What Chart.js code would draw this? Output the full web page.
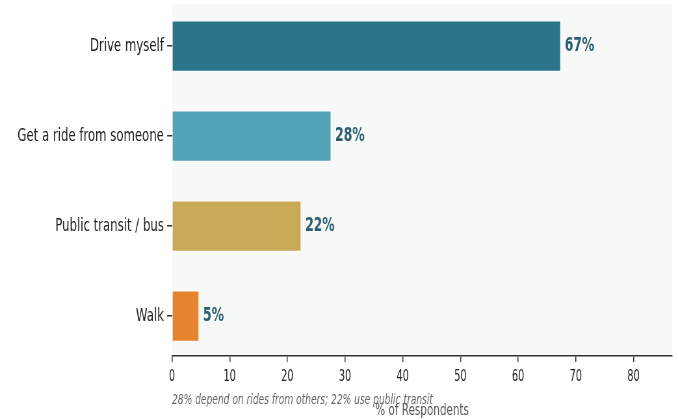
<!DOCTYPE html>
<html>
<head>
<meta charset="utf-8">
<script src="https://cdn.jsdelivr.net/npm/chart.js@4/dist/chart.umd.min.js"></script>
<style>
  html, body { margin: 0; padding: 0; background: #ffffff; overflow: hidden; }
  /* the reference text is squeezed sideways, so the canvas is drawn wide and shown narrow */
  #barChart { display: block; width: 678px !important; height: 420px !important; }
</style>
</head>
<body>
<canvas id="barChart" width="1043" height="420"></canvas>
<script>
var categories = ["Drive myself", "Get a ride from someone", "Public transit / bus", "Walk"];
var shares     = [67.4, 27.6, 22.4, 4.7];
var barColors  = ["#2a7589", "#52a2b8", "#c9aa56", "#e5832f"];
var xTicks     = [0, 10, 20, 30, 40, 50, 60, 70, 80];
var footnote   = "28% depend on rides from others; 22% use public transit";

var squeeze = 0.65;   // shown width / drawn width
var fontFamily = "'DejaVu Sans', sans-serif";

// bars sit on index positions 0..3 of a linear axis, like barh does
var points = shares.map(function (v, i) { return { x: v, y: i }; });

// plot background + value labels + footnote
var extras = {
    id: "extras",
    beforeDraw: function (chart) {
        var a = chart.chartArea, ctx = chart.ctx;
        ctx.save();
        ctx.fillStyle = "#f7f9f9";
        ctx.fillRect(a.left, a.top, a.right - a.left, a.bottom - a.top);
        ctx.restore();
    },
    afterDatasetsDraw: function (chart) {
        var ctx = chart.ctx;
        var meta = chart.getDatasetMeta(0);
        ctx.save();
        ctx.font = "bold 19px " + fontFamily;
        ctx.fillStyle = "#2b5e6c";
        ctx.textBaseline = "middle";
        meta.data.forEach(function (bar, i) {
            ctx.fillText(shares[i].toFixed(0) + "%", bar.x + 6, bar.y);
        });
        ctx.font = "italic 14px " + fontFamily;
        ctx.fillStyle = "#666666";
        ctx.fillText(footnote, chart.chartArea.left, 400);
        ctx.restore();
    }
};

var ctx = document.getElementById("barChart").getContext("2d");
new Chart(ctx, {
    type: "bar",
    data: {
        datasets: [{
            data: points,
            backgroundColor: barColors,
            borderColor: "#ffffff",
            borderWidth: 1,
            categoryPercentage: 1,
            barPercentage: 0.57
        }]
    },
    options: {
        indexAxis: "y",
        responsive: false,
        animation: false,
        layout: { padding: { left: 0, right: 9, top: 4, bottom: 0 } },
        plugins: {
            legend: { display: false },
            tooltip: { enabled: false }
        },
        scales: {
            x: {
                type: "linear",
                min: 0,
                max: 86.7,
                afterFit: function (s) { s.height = 64; },
                afterBuildTicks: function (s) {
                    s.ticks = xTicks.map(function (v) { return { value: v }; });
                },
                grid: { display: true, drawOnChartArea: false, drawTicks: true, tickLength: 6, color: "#333333", lineWidth: 1.5 },
                border: { display: true, color: "#333333", width: 1.5 },
                ticks: { color: "#222222", font: { family: fontFamily, size: 15 }, padding: 6, maxRotation: 0 },
                title: {
                    display: true,
                    text: "% of Respondents",
                    color: "#555555",
                    font: { family: fontFamily, size: 16 },
                    padding: { top: 0, bottom: 0 }
                }
            },
            y: {
                type: "linear",
                reverse: true,
                offset: false,
                min: -0.467,
                max: 3.444,
                afterBuildTicks: function (s) {
                    s.ticks = categories.map(function (c, i) { return { value: i }; });
                },
                afterFit: function (s) {
                    s.width = 172 / squeeze;
                    s.paddingTop = 0;
                    s.paddingBottom = 0;
                },
                grid: { display: true, offset: false, drawOnChartArea: false, drawTicks: true, tickLength: 7.5, color: "#333333", lineWidth: 1.5 },
                border: { display: false },
                ticks: {
                    color: "#222222",
                    font: { family: fontFamily, size: 18 },
                    padding: 5,
                    callback: function (v) { return categories[v]; }
                }
            }
        }
    },
    plugins: [extras]
});
</script>
</body>
</html>
